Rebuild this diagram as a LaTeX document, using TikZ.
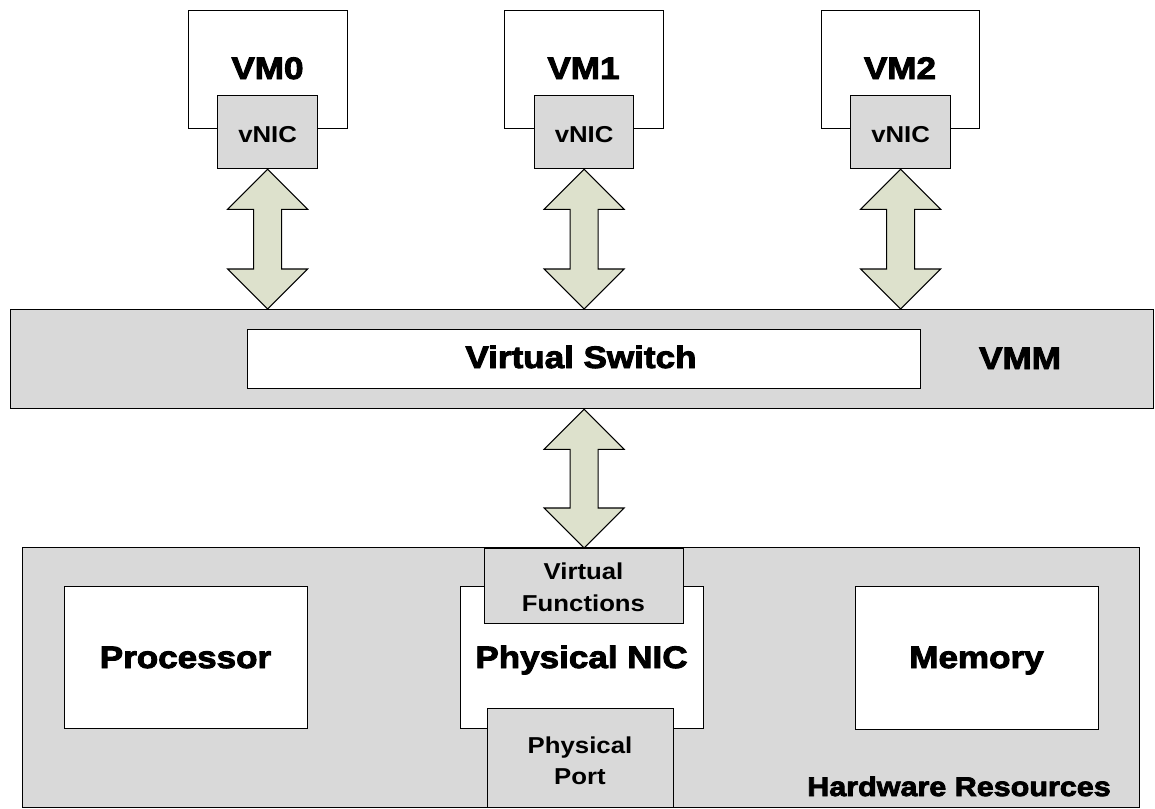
\documentclass[tikz,border=0pt]{standalone}
\usepackage{fontspec}
\setmainfont{Liberation Sans}[FakeStretch=1.12]
\newfontfamily\heavyfont{Liberation Sans Bold}[FakeBold=3,FakeStretch=1.13]
\usetikzlibrary{calc}

\definecolor{panelgray}{HTML}{D9D9D9}
\definecolor{arrowfill}{HTML}{DDE1CC}

\tikzset{
  x=1pt, y=-1pt,
  box/.style={draw=black, line width=1.3pt, rectangle, inner sep=0pt, anchor=north west},
  graybox/.style={box, fill=panelgray},
  whitebox/.style={box, fill=white},
  heavylabel/.style={font=\heavyfont\fontsize{31}{34}\selectfont, anchor=base, inner sep=0pt},
  smalllabel/.style={font=\bfseries\fontsize{23}{28}\selectfont, anchor=base, inner sep=0pt, align=center},
  blockarrow/.style={draw=black, line width=1.1pt, fill=arrowfill, line join=miter},
}

% double-headed block arrow between two tips on one vertical line
\newcommand\dblarrow[2]{%
  \path[blockarrow] let \p1=#1, \p2=#2 in
    (\x1,\y1) -- ({\x1+40pt},{\y1-40pt}) -- ({\x1+14pt},{\y1-40pt})
    -- ({\x1+14pt},{\y2+40pt}) -- ({\x1+40pt},{\y2+40pt}) -- (\x1,\y2)
    -- ({\x1-40pt},{\y2+40pt}) -- ({\x1-14pt},{\y2+40pt})
    -- ({\x1-14pt},{\y1-40pt}) -- ({\x1-40pt},{\y1-40pt}) -- cycle;}

\begin{document}
\begin{tikzpicture}
\useasboundingbox (0,0) rectangle (1155,808);

% virtual machines with their vNICs
\node[whitebox, minimum width=159pt, minimum height=118pt] (vm0) at (188,10) {};
\node[whitebox, minimum width=159pt, minimum height=118pt] (vm1) at (504,10) {};
\node[whitebox, minimum width=158pt, minimum height=118pt] (vm2) at (821,10) {};
\node[heavylabel] (vm0t) at (267.5,79) {VM0};
\node[heavylabel] (vm1t) at (583.5,79) {VM1};
\node[heavylabel] (vm2t) at (900,79) {VM2};

\node[graybox, minimum width=100pt, minimum height=73pt] (nic0) at (217,95) {};
\node[graybox, minimum width=99pt, minimum height=73pt] (nic1) at (534,95) {};
\node[graybox, minimum width=100pt, minimum height=73pt] (nic2) at (850,95) {};
\node[smalllabel] at ($(nic0.center)+(0,10)$) {vNIC};
\node[smalllabel] at ($(nic1.center)+(0,10)$) {vNIC};
\node[smalllabel] at ($(nic2.center)+(0,10)$) {vNIC};

% hypervisor layer
\node[graybox, minimum width=1143pt, minimum height=99pt] (vmm) at (10,309) {};
\node[whitebox, minimum width=673pt, minimum height=59pt] (vsw) at (247,329) {};
\node[heavylabel] at (581,368) {Virtual Switch};
\node[heavylabel] at (1020,369) {VMM};

% hardware layer
\node[graybox, minimum width=1117pt, minimum height=260pt] (hw) at (22,547) {};
\node[whitebox, minimum width=243pt, minimum height=142pt] (cpu) at (64,586) {};
\node[whitebox, minimum width=243pt, minimum height=142pt] (pnic) at (460,586) {};
\node[whitebox, minimum width=243pt, minimum height=143pt] (mem) at (855,586) {};
\node[graybox, minimum width=199pt, minimum height=75pt] (vf) at (484,548) {};
\node[graybox, minimum width=186pt, minimum height=99pt] (port) at (487,708) {};
\node[heavylabel] at (185.5,668) {Processor};
\node[heavylabel] at (581.5,668) {Physical NIC};
\node[heavylabel] at (976.5,668) {Memory};
\node[smalllabel] at (583.5,579) {Virtual};
\node[smalllabel] at (583.5,611) {Functions};
\node[smalllabel] at (580,753) {Physical};
\node[smalllabel] at (580,784) {Port};
\node[heavylabel, font=\heavyfont\fontsize{27}{30}\selectfont, anchor=base east] at (1111,796) {Hardware Resources};

% data paths
\dblarrow{(nic0.south)}{(vmm.north -| nic0.south)}
\dblarrow{(nic1.south)}{(vmm.north -| nic1.south)}
\dblarrow{(nic2.south)}{(vmm.north -| nic2.south)}
\dblarrow{(vmm.south -| vf.north)}{(vf.north)}
\end{tikzpicture}
\end{document}
